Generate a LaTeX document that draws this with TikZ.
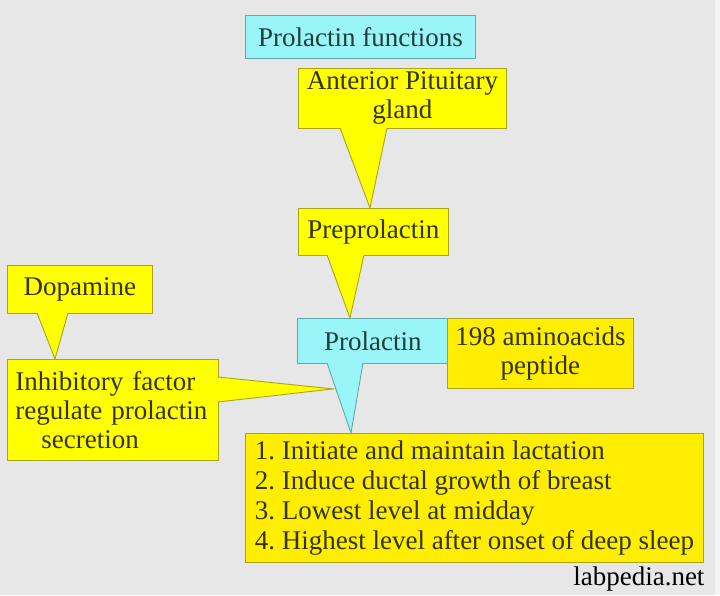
\documentclass[tikz,border=0pt]{standalone}
\usepackage{fontspec}
\setmainfont{Liberation Serif}
\frenchspacing
\usetikzlibrary{calc}
\definecolor{plbg}{HTML}{E7E7E7}
\definecolor{pledge}{HTML}{F3F3F3}
\definecolor{plyel}{HTML}{FFFF00}
\definecolor{plgold}{HTML}{FFEE00}
\definecolor{plyline}{HTML}{A8A41E}
\definecolor{plcyan}{HTML}{99F5F8}
\definecolor{plcline}{HTML}{62A9AA}
\definecolor{plink}{HTML}{333300}
\definecolor{plteal}{HTML}{1E3D3D}

\begin{document}
\begin{tikzpicture}[
  x=1pt, y=-1pt,
  font=\fontsize{27}{29}\selectfont,
  ybox/.style={draw=plyline, fill=plyel, text=plink, line width=0.9pt,
               inner sep=0pt, align=center, anchor=north west},
  gbox/.style={ybox, fill=plgold},
  cbox/.style={draw=plcline, fill=plcyan, text=plteal, line width=0.9pt,
               inner sep=0pt, align=center, anchor=north west},
  ytail/.style={fill=plyel, draw=plyline, line width=0.9pt},
  ctail/.style={fill=plcyan, draw=plcline, line width=0.9pt}]

%% fixed canvas, pixel units of the reference (y runs downwards)
\useasboundingbox (0,0) rectangle (720,595);
\fill[plbg] (0,0) rectangle (715,595);
\fill[pledge] (715,0) rectangle (720,595);

%% ---- centre column ----
\node[cbox, minimum width=230pt, minimum height=43pt] (title) at (245,15)
  {Prolactin functions};

\node[ybox, minimum width=208pt, minimum height=60pt] (pituitary) at (298,68)
  {Anterior Pituitary\\gland};

\node[ybox, minimum width=150pt, minimum height=47pt] (prepro) at (298,208)
  {Preprolactin};

\node[cbox, minimum width=151pt, minimum height=45pt] (prolactin) at (297,318)
  {Prolactin};

\node[gbox, minimum width=186pt, minimum height=70pt] (amino) at (447,318)
  {198 aminoacids\\peptide};

%% ---- left column ----
\node[ybox, minimum width=145pt, minimum height=48pt] (dopamine) at (7,265)
  {Dopamine};

\node[ybox, align=left, text width=195pt, inner xsep=8pt,
      minimum width=211pt, minimum height=101pt] (inhibit) at (7,359)
  {Inhibitory factor\\regulate prolactin\\\hspace*{26pt}secretion};

%% ---- list of functions ----
%% no text width here: with one, line 4 kept wrapping before "sleep"
\node[gbox, align=left, inner xsep=8pt, minimum width=458pt,
      minimum height=129pt, font=\fontsize{27}{30}\selectfont]
  (functions) at (245,433)
  {1. Initiate and maintain lactation\\
   2. Induce ductal growth of breast\\
   3. Lowest level at midday\\
   4. Highest level after onset of deep sleep};

\node[anchor=base east, text=black] (site) at (708,585) {labpedia.net};

%% ---- callout tails (base tucked 1pt into the box, so no edge across it) ----
\path[ytail] ($(pituitary.south west)+(42,-1)$)
  -- ($(prepro.north west)+(72,0)$)
  -- ($(pituitary.south west)+(89,-1)$);
\path[ytail] ($(prepro.south west)+(29,-1)$)
  -- ($(prolactin.north west)+(53,0)$)
  -- ($(prepro.south west)+(66,-1)$);
\path[ctail] ($(prolactin.south west)+(30,-1)$)
  -- ($(functions.north west)+(106,0)$)
  -- ($(prolactin.south west)+(66,-1)$);
\path[ytail] ($(dopamine.south west)+(30,-1)$)
  -- ($(inhibit.north west)+(48,0)$)
  -- ($(dopamine.south west)+(61,-1)$);
\path[ytail] ($(inhibit.north east)+(-1,18)$)
  -- ($(prolactin.south west)+(36,25)$)
  -- ($(inhibit.north east)+(-1,43)$);

\end{tikzpicture}
\end{document}
